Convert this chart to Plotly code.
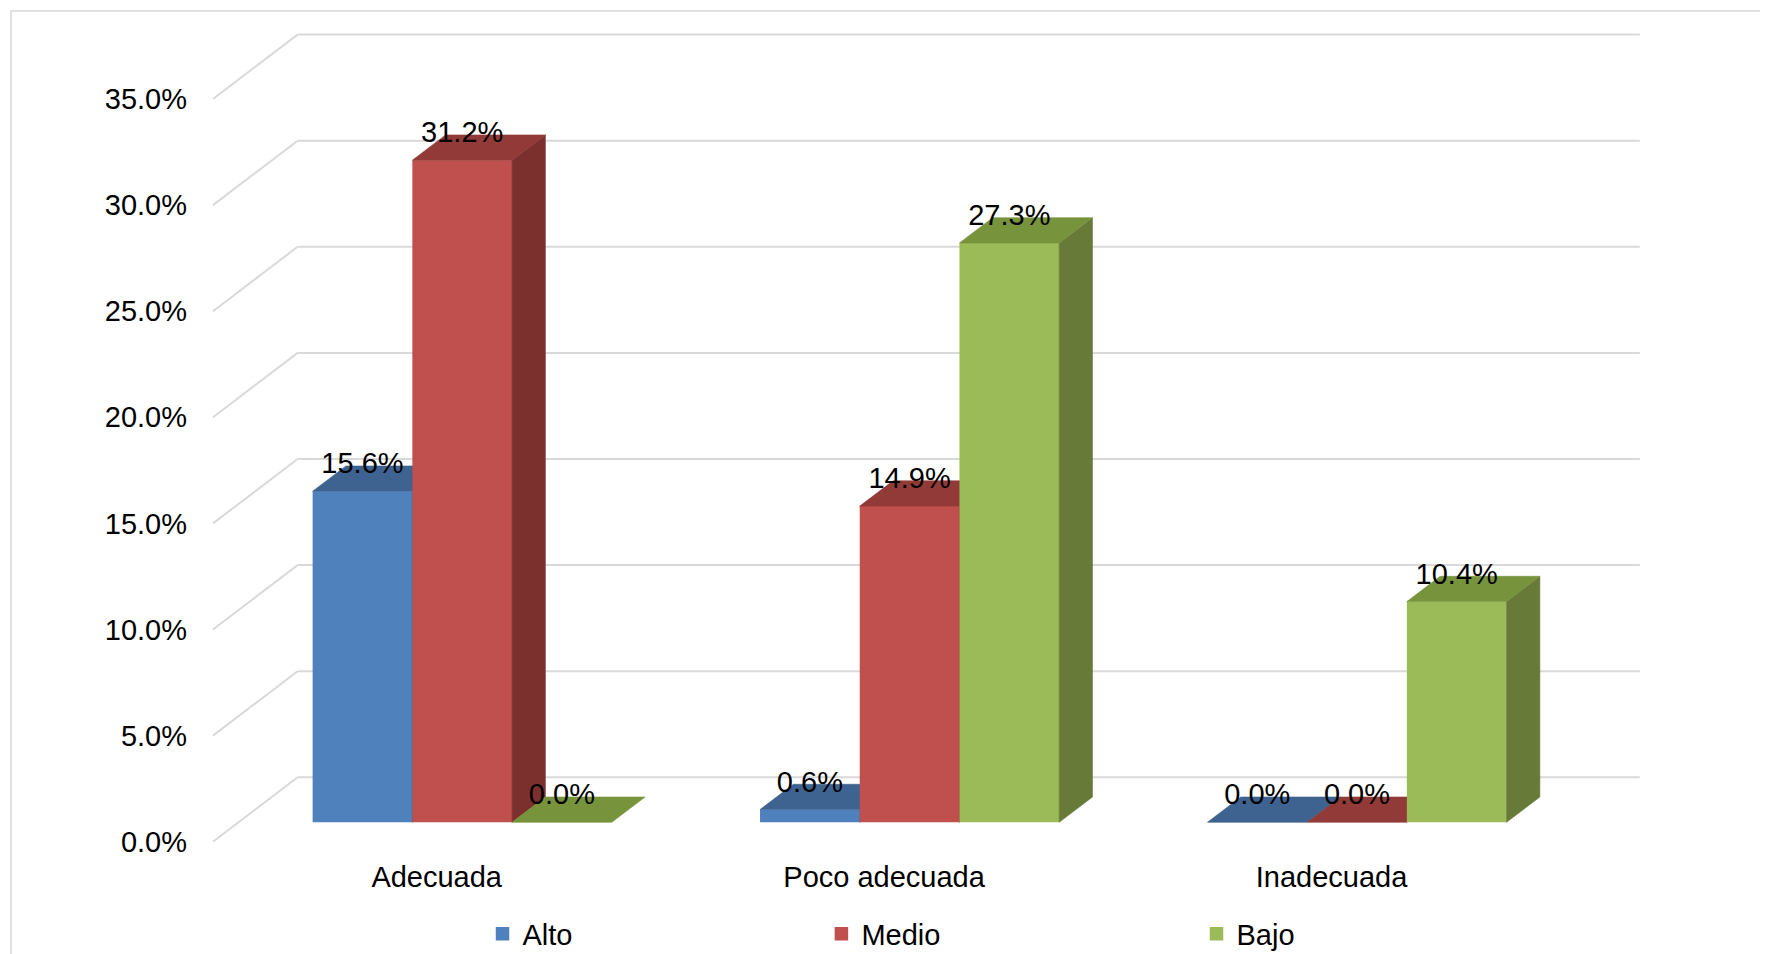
import plotly.graph_objects as go

# ---------------- data ----------------
categories = ["Adecuada", "Poco adecuada", "Inadecuada"]
series_names = ["Alto", "Medio", "Bajo"]
alto = [15.6, 0.6, 0.0]
medio = [31.2, 14.9, 0.0]
bajo = [0.0, 27.3, 10.4]
y_ticks = [0, 5, 10, 15, 20, 25, 30, 35]

# ---------------- styles ----------------
front_colors = ["#4F81BD", "#C0504D", "#9BBB59"]
top_colors = ["#3E6391", "#913A38", "#77933C"]
side_colors = ["#375D8A", "#7C302E", "#677A37"]
grid_color = "#D9D9D9"
FONT = "Liberation Sans, Arial, sans-serif"
FS = 29

# ---------------- geometry (pixels inside the figure) ----------------
# the page body adds an 8 px offset, so page positions are reduced by 8
PAGE_OFF = 8
W, H = 1768, 954
ML = 212 - PAGE_OFF
X_SCALE = 447.4                  # px per category step
Y_SCALE = 21.22                  # px per percentage point
X0_PX = 462.2 - PAGE_OFF         # px of category 0 on the bar front plane
Y0_PX = 822.3 - PAGE_OFF         # px of 0 % on the bar front plane
BARGAP = 0.3314
bw = (1 - BARGAP) / 3
# oblique depth offsets (data units)
DX_BAR, DV_BAR = 33.3 / X_SCALE, 25.3 / Y_SCALE
DX_WALL, DV_WALL = 59.1 / X_SCALE, 45.0 / Y_SCALE
DX_FLOOR, DV_FLOOR = -25.5 / X_SCALE, -19.4 / Y_SCALE

x_range = [(ML - X0_PX) / X_SCALE, (W - X0_PX) / X_SCALE]
y_range = [(Y0_PX - H) / Y_SCALE, Y0_PX / Y_SCALE]

fig = go.Figure()

values = [alto, medio, bajo]
for s, (name, vals) in enumerate(zip(series_names, values)):
    # front faces
    fig.add_trace(go.Bar(
        x=list(range(len(categories))), y=vals, name=name,
        width=bw, offset=(s - 1.5) * bw,
        marker=dict(color=front_colors[s], line=dict(width=0)),
        showlegend=False, hoverinfo="skip", zorder=s,
    ))
    # side and top faces
    sx, sy, tx, ty = [], [], [], []
    for c, v in enumerate(vals):
        x0 = c + (s - 1.5) * bw
        x1 = x0 + bw
        tx += [x0, x1, x1 + DX_BAR, x0 + DX_BAR, x0, None]
        ty += [v, v, v + DV_BAR, v + DV_BAR, v, None]
        if v > 0:
            sx += [x1, x1 + DX_BAR, x1 + DX_BAR, x1, x1, None]
            sy += [0, DV_BAR, v + DV_BAR, v, 0, None]
    if sx:
        fig.add_trace(go.Scatter(
            x=sx, y=sy, mode="lines", fill="toself", fillcolor=side_colors[s],
            line=dict(color=side_colors[s], width=0.6),
            showlegend=False, hoverinfo="skip", zorder=s,
        ))
    fig.add_trace(go.Scatter(
        x=tx, y=ty, mode="lines", fill="toself", fillcolor=top_colors[s],
        line=dict(color=top_colors[s], width=0.6),
        showlegend=False, hoverinfo="skip", zorder=s,
    ))

# data labels
for s, vals in enumerate(values):
    fig.add_trace(go.Scatter(
        x=[c + (s - 1) * bw for c in range(len(categories))],
        y=[v + DV_BAR for v in vals],
        mode="text", text=[f"{v:.1f}%" for v in vals],
        textposition="middle center",
        textfont=dict(family=FONT, size=FS, color="#000000"),
        showlegend=False, hoverinfo="skip", zorder=10,
    ))

# legend entries (one legend per entry to reproduce the Excel spacing)
legend_ids = ["legend", "legend2", "legend3"]
legend_sq_px = [504.5 - PAGE_OFF, 843.4 - PAGE_OFF, 1218.5 - PAGE_OFF]
legend_y_px = 934 - PAGE_OFF
for s, name in enumerate(series_names):
    fig.add_trace(go.Scatter(
        x=[None], y=[None], mode="markers", name=name,
        marker=dict(symbol="square", size=13.5, color=front_colors[s]),
        legend=legend_ids[s], hoverinfo="skip",
    ))

# dummy trace on the label axes
fig.add_trace(go.Scatter(x=[None], y=[None], xaxis="x2", yaxis="y2",
                         showlegend=False, hoverinfo="skip"))

shapes = []
for t in y_ticks:
    # back-wall gridline
    shapes.append(dict(type="line", xref="x", yref="y", layer="below",
                       x0=-0.5 + DX_WALL, x1=len(categories) - 0.5 + DX_WALL,
                       y0=t + DV_WALL, y1=t + DV_WALL,
                       line=dict(color=grid_color, width=2)))
    # side-wall slanted gridline
    shapes.append(dict(type="line", xref="x", yref="y", layer="below",
                       x0=-0.5 + DX_WALL, x1=-0.5 + DX_FLOOR,
                       y0=t + DV_WALL, y1=t + DV_FLOOR,
                       line=dict(color=grid_color, width=2)))
# outer chart border
BORDER_PX = 11 - PAGE_OFF
shapes.append(dict(type="rect", xref="paper", yref="paper", layer="below",
                   x0=(BORDER_PX - ML) / (W - ML), x1=1.05, y0=-0.05,
                   y1=1 - BORDER_PX / H,
                   line=dict(color=grid_color, width=1.5), fillcolor="rgba(0,0,0,0)"))

layout_legends = {}
for i, lid in enumerate(legend_ids):
    layout_legends[lid] = dict(
        x=(legend_sq_px[i] - 22) / W, xref="container", xanchor="left",
        y=1 - legend_y_px / H, yref="container", yanchor="middle",
        orientation="h",
        font=dict(family=FONT, size=FS, color="#000000"),
        bgcolor="rgba(0,0,0,0)", itemwidth=30, borderwidth=0,
    )

fig.update_layout(
    width=W, height=H,
    margin=dict(l=ML, r=0, t=0, b=0, pad=0, autoexpand=False),
    paper_bgcolor="white", plot_bgcolor="white",
    barmode="overlay",
    font=dict(family=FONT, size=FS, color="#000000"),
    xaxis=dict(range=x_range, visible=False, fixedrange=True),
    yaxis=dict(range=y_range, visible=False, fixedrange=True),
    xaxis2=dict(overlaying="x", anchor="free",
                position=1 - (856.5 - PAGE_OFF) / H,
                range=[r - DX_FLOOR for r in x_range],
                tickvals=list(range(len(categories))), ticktext=categories,
                tickangle=0, automargin=False,
                showgrid=False, zeroline=False, showline=False, ticks="",
                tickfont=dict(family=FONT, size=FS, color="#000000")),
    yaxis2=dict(overlaying="y", anchor="x", side="left", automargin=False,
                range=[r - DV_FLOOR for r in y_range],
                tickvals=y_ticks, ticktext=[f"{t:.1f}%" for t in y_ticks],
                showgrid=False, zeroline=False, showline=False, ticks="",
                ticklabelstandoff=24,
                tickfont=dict(family=FONT, size=FS, color="#000000")),
    shapes=shapes,
    **layout_legends,
)

fig.write_html("out.html", config={"displayModeBar": False})
